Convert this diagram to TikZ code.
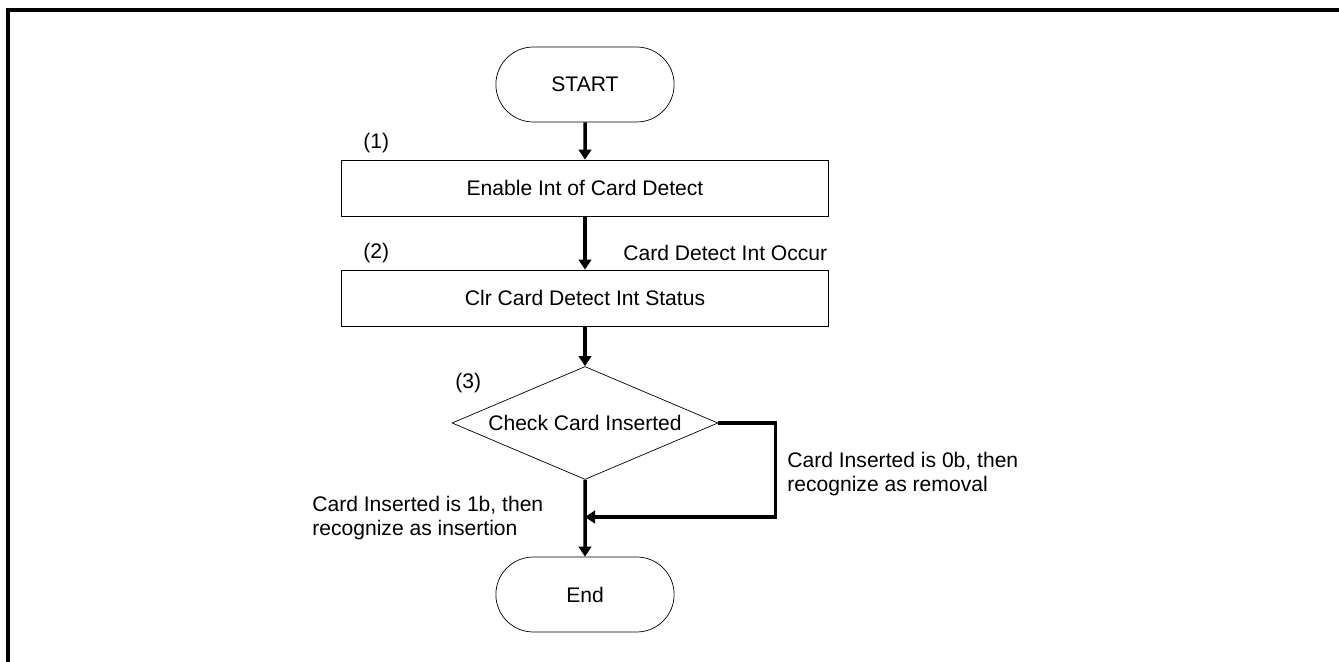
\documentclass[tikz,border=0pt]{standalone}
\usepackage{fontspec}
\setmainfont{Liberation Sans}
\usetikzlibrary{shapes.geometric,shapes.misc,arrows.meta}

\begin{document}
\begin{tikzpicture}[x=0.02cm, y=-0.02cm,
    font=\fontsize{12}{14}\selectfont,
    terminal/.style={draw, thin, rounded rectangle, minimum width=3.8cm, minimum height=1.5cm},
    process/.style={draw, thin, rectangle, minimum width=9.74cm, minimum height=1.12cm},
    decision/.style={draw, thin, diamond, aspect=2.35, inner sep=0pt, minimum width=5.32cm, minimum height=2.26cm},
    flow/.style={line width=2pt, -{Triangle[width=0.25cm, length=0.2cm]}}]
    \useasboundingbox (0,0) rectangle (1339,662);
    \draw[line width=2pt] (8,662) -- (8,10) -- (1339,10);

    \node[terminal] (start) at (585,84.5) {START};
    \node[process] (enable) at (585,188) {Enable Int of Card Detect};
    \node[process] (clear) at (585,298) {Clr Card Detect Int Status};
    \node[decision] (check) at (585,423) {Check Card Inserted};
    \node[terminal] (finish) at (585,594.5) {End};
    \coordinate (merge) at (585,517);

    \node[anchor=west, inner sep=0pt] (step1) at (363,143) {(1)};
    \node[anchor=west, inner sep=0pt] (step2) at (363,253) {(2)};
    \node[anchor=west, inner sep=0pt] (step3) at (455,383) {(3)};
    \node[anchor=west, inner sep=0pt] (occur) at (623,253) {Card Detect Int Occur};
    \node[anchor=west, align=left, inner sep=0pt] (removal) at (787,474)
        {Card Inserted is 0b, then\\recognize as removal};
    \node[anchor=west, align=left, inner sep=0pt] (insertion) at (312,518)
        {Card Inserted is 1b, then\\recognize as insertion};

    \draw[flow] (start) -- (enable);
    \draw[flow] (enable) -- (clear);
    \draw[flow] (clear) -- (check);
    \draw[flow] (check) -- (finish);
    \draw[flow] (check.east) -- ++(57,0) |- (merge);
\end{tikzpicture}
\end{document}
